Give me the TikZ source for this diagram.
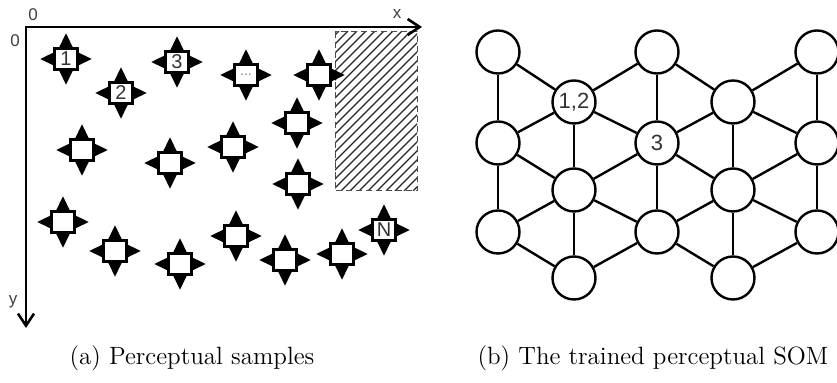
\documentclass[tikz,border=0pt]{standalone}
\usepackage{fontspec}
\usetikzlibrary{arrows.meta}
\newfontfamily\arialfont{Liberation Sans}

\begin{document}
\begin{tikzpicture}[x=0.5pt, y=-0.5pt,
    smp/.style={draw, line width=1.5pt, fill=white, minimum width=11.5pt,
      minimum height=10.5pt, inner sep=0pt, text=black!80,
      font=\arialfont\fontsize{10}{10}\selectfont},
    unit/.style={circle, draw, line width=1.2pt, fill=white, minimum size=21.5pt,
      inner sep=0pt, text=black!80, font=\arialfont\fontsize{11}{11}\selectfont},
    link/.style={line width=1.2pt},
    axlabel/.style={text=black!75, inner sep=0pt,
      font=\arialfont\fontsize{8.5}{8.5}\selectfont},
    caption/.style={anchor=base, font=\fontsize{12.5}{14}\selectfont}]
    \useasboundingbox (0,0) rectangle (837,383);

    % (a) samples in the image plane
    \coordinate (o) at (26,27);
    \coordinate (xend) at (422,27);
    \coordinate (yend) at (26,328);
    \begin{scope}
      \clip (335,32) rectangle (417,191);
      \foreach \k in {170,179,...,420}
        \draw[line width=0.55pt, black!85] (\k,191) -- ++(160,-160);
    \end{scope}
    \draw[draw=black!70, densely dashed, line width=0.5pt] (335,32) rectangle (417,191);
    \draw[line width=1.3pt, line join=miter,
      {Straight Barb[length=6pt,width=8pt]}-{Straight Barb[length=6pt,width=8pt]}]
      (xend) -- (o) -- (yend);
    \node[axlabel] (x0) at (33,15) {0};
    \node[axlabel] (y0) at (15,41) {0};
    \node[axlabel] (xl) at (397,14) {x};
    \node[axlabel] (yl) at (13,302) {y};

    \foreach \n/\px/\py/\t in {s1/66/59/1, s2/121/93/2, s3/177/62/3,
        s4/246/75/{\textcolor{black!50}{\fontsize{7}{7}\selectfont...}},
        s5/319/75/{}, s6/297/123/{}, s7/233/147/{}, s8/298/184/{},
        s9/82/150/{}, s10/170/163/{},
        s11/63/222/{}, s12/115/251/{}, s13/180/264/{}, s14/236/236/{},
        s15/285/260/{}, s16/342/254/{}, s17/384/230/N} {
      \begin{scope}[shift={(\px,\py)}]
        \foreach \r in {0,90,180,270}
          \fill[rotate=\r] (-3.6pt,5.5pt) -- (3.6pt,5.5pt) -- (0,12.8pt) -- cycle;
      \end{scope}
      \node[smp] (\n) at (\px,\py) {\t};
    }

    % (b) the SOM lattice
    \foreach \n/\px/\py/\t in {u11/498/52/{}, u12/498/143/{}, u13/498/232/{},
        u21/574/102/{1,2}, u22/574/190/{}, u23/574/278/{},
        u31/657/52/{}, u32/657/143/3, u33/657/232/{},
        u41/733/102/{}, u42/733/190/{}, u43/733/278/{},
        u51/817/52/{}, u52/817/143/{}, u53/817/232/{}}
      \node[unit] (\n) at (\px,\py) {\t};
    \foreach \c in {1,...,5}
      \draw[link] (u\c1) -- (u\c2) (u\c2) -- (u\c3);
    \foreach \o/\e in {1/2,3/2,3/4,5/4}
      \draw[link] (u\o1) -- (u\e1) (u\o2) -- (u\e1) (u\o2) -- (u\e2)
        (u\o3) -- (u\e2) (u\o3) -- (u\e3);

    \node[caption] (capa) at (192,365) {(a) Perceptual samples};
    \node[caption] (capb) at (653,365) {(b) The trained perceptual SOM};
\end{tikzpicture}
\end{document}
